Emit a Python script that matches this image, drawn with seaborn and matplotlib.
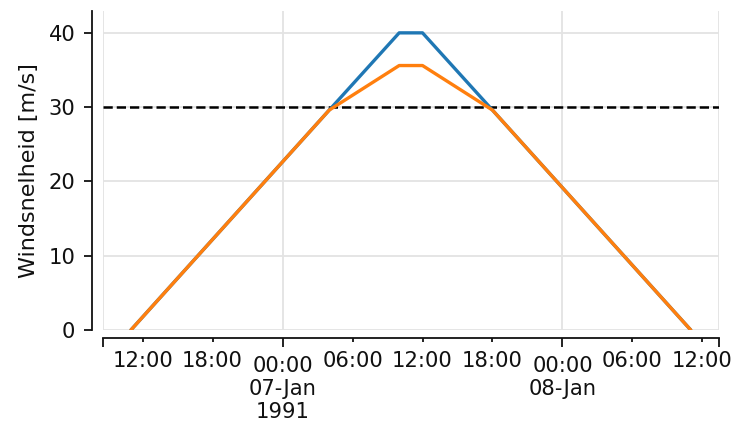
import matplotlib
matplotlib.use("Agg")
import matplotlib.pyplot as plt
import matplotlib.dates as mdates
import matplotlib.ticker as mticker
import numpy as np
import pandas as pd
import seaborn as sns

# Wind speed at the key moments of the storm passage
times = ["1991-01-06 11:00", "1991-01-07 04:00", "1991-01-07 10:00",
         "1991-01-07 12:00", "1991-01-07 18:00", "1991-01-08 11:00"]
wind_raw = [0, 29.6, 40, 40, 29.6, 0]
wind_capped = [0, 29.6, 35.6, 35.6, 29.6, 0]
threshold = 30

day_ticks = ["1991-01-07 00:00", "1991-01-08 00:00"]
day_labels = ["00:00\n07-Jan\n1991", "00:00\n08-Jan"]
hour_ticks = [6, 12, 18]
y_ticks = [0, 10, 20, 30, 40]
y_label = "Windsnelheid [m/s]"

sns.set_theme(style="white")
plt.rcParams["font.family"] = ["DejaVu Sans"]
plt.rcParams["font.size"] = 15
text_color = "#111111"

df = pd.DataFrame({
    "tijd": pd.to_datetime(times),
    "ruw": wind_raw,
    "begrensd": wind_capped,
})

fig = plt.figure(figsize=(7.33, 4.23), dpi=100)
ax = fig.add_axes([0.1405, 0.22, 0.840, 0.755])

sns.lineplot(data=df, x="tijd", y="ruw", ax=ax, color="#1f77b4", linewidth=2.4)
sns.lineplot(data=df, x="tijd", y="begrensd", ax=ax, color="#ff7f0e", linewidth=2.4)
ax.axhline(threshold, color="black", linestyle="--", linewidth=1.8, zorder=1)

ax.set_ylim(0, 43)
ax.set_yticks(y_ticks)
x0, x1 = ax.get_xlim()

major_pos = [x0] + [mdates.date2num(pd.Timestamp(t)) for t in day_ticks] + [x1]
major_lab = [""] + day_labels + [""]
ax.xaxis.set_major_locator(mticker.FixedLocator(major_pos))
ax.xaxis.set_major_formatter(mticker.FixedFormatter(major_lab))
ax.xaxis.set_minor_locator(mdates.HourLocator(byhour=hour_ticks))
ax.xaxis.set_minor_formatter(mdates.DateFormatter("%H:%M"))
ax.set_xlim(x0, x1)

ax.set_xlabel("")
ax.set_ylabel(y_label, fontsize=16, color=text_color, labelpad=7)

ax.grid(True, which="major", color="#e3e3e3", linewidth=1.3)
ax.set_axisbelow(True)

sns.despine(ax=ax)
ax.spines["left"].set_position(("outward", 8))
ax.spines["bottom"].set_position(("outward", 6))
for s in ("left", "bottom"):
    ax.spines[s].set_color("#111111")
    ax.spines[s].set_linewidth(1.3)

ax.tick_params(axis="y", which="major", length=6, width=1.3, pad=6,
               labelsize=15.2, colors=text_color, left=True)
ax.tick_params(axis="x", which="major", length=6.5, width=1.3, pad=6,
               labelsize=15.2, colors=text_color, bottom=True)
ax.tick_params(axis="x", which="minor", length=3, width=1.3, pad=6,
               labelsize=15.2, colors=text_color, bottom=True)

fig.savefig("out.png", dpi=100)
